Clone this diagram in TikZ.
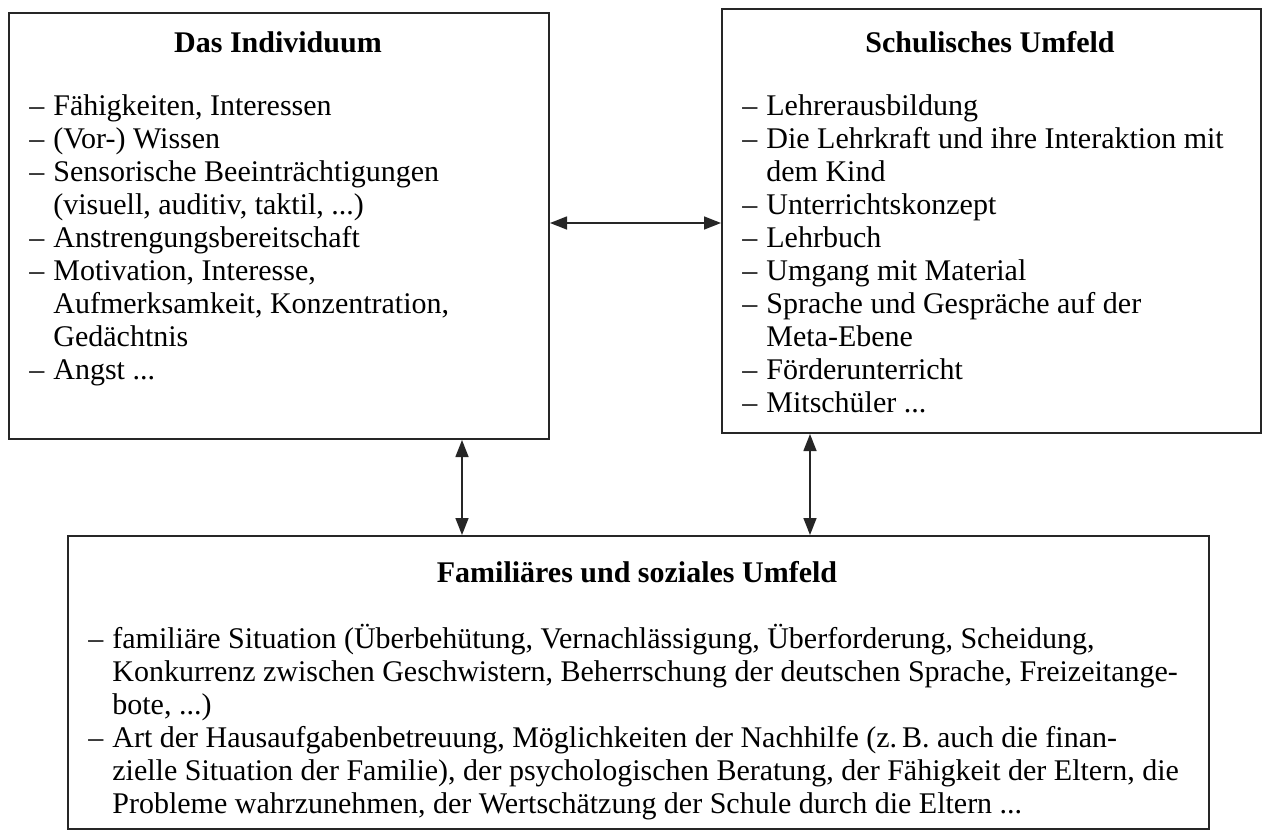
\documentclass[tikz,border=0pt]{standalone}
\usepackage{fontspec}
\setmainfont{Liberation Serif}
\usetikzlibrary{arrows.meta,positioning}

\newcommand{\strich}{\makebox[12pt][l]{--}}
\newcommand{\einzug}{\hspace*{12pt}}

\tikzset{
  kasten/.style={draw=black!85, line width=1pt, inner sep=0pt, anchor=north west},
  titel/.style={font=\fontsize{15pt}{16.5pt}\selectfont\bfseries, anchor=base},
  liste/.style={font=\fontsize{15pt}{16.5pt}\selectfont, align=left, inner sep=0pt, anchor=north west},
  pfeil/.style={{Triangle[length=8.5pt,width=6.5pt]}-{Triangle[length=8.5pt,width=6.5pt]}, draw=black!85, line width=0.75pt}
}

\begin{document}
\begin{tikzpicture}[x=0.5pt, y=-0.5pt]
  \useasboundingbox (0,0) rectangle (1264,831);

  % die drei Kaesten
  \node[kasten, minimum width=270pt, minimum height=213pt] (indiv) at (8,12) {};
  \node[kasten, minimum width=269.5pt, minimum height=212pt] (schule) at (721,8) {};
  \node[kasten, minimum width=570.5pt, minimum height=146.5pt] (familie) at (67,535) {};

  % Das Individuum
  \node[titel] (indivtitel) at (278,52) {Das Individuum};
  \node[liste] (indivliste) at (29,94) {%
    \strich Fähigkeiten, Interessen\\
    \strich (Vor-) Wissen\\
    \strich Sensorische Beeinträchtigungen\\
    \einzug (visuell, auditiv, taktil, ...)\\
    \strich Anstrengungsbereitschaft\\
    \strich Motivation, Interesse,\\
    \einzug Aufmerksamkeit, Konzentration,\\
    \einzug Gedächtnis\\
    \strich Angst ...};

  % Schulisches Umfeld
  \node[titel] (schultitel) at (990,52) {Schulisches Umfeld};
  \node[liste] (schulliste) at (742,94) {%
    \strich Lehrerausbildung\\
    \strich Die Lehrkraft und ihre Interaktion mit\\
    \einzug dem Kind\\
    \strich Unterrichtskonzept\\
    \strich Lehrbuch\\
    \strich Umgang mit Material\\
    \strich Sprache und Gespräche auf der\\
    \einzug Meta-Ebene\\
    \strich Förderunterricht\\
    \strich Mitschüler ...};

  % Familiaeres und soziales Umfeld
  \node[titel] (familietitel) at (637,582) {Familiäres und soziales Umfeld};
  \node[liste] (familieliste) at (88,624) {%
    \strich familiäre Situation (Überbehütung, Vernachlässigung, Überforderung, Scheidung,\\
    \einzug Konkurrenz zwischen Geschwistern, Beherrschung der deutschen Sprache, Freizeitange-\\
    \einzug bote, ...)\\
    \strich Art der Hausaufgabenbetreuung, Möglichkeiten der Nachhilfe (z.\,B. auch die finan-\\
    \einzug zielle Situation der Familie), der psychologischen Beratung, der Fähigkeit der Eltern, die\\
    \einzug Probleme wahrzunehmen, der Wertschätzung der Schule durch die Eltern ...};

  % Pfeile
  \coordinate (mitte) at (0,223);
  \coordinate (links) at (462,0);
  \coordinate (rechts) at (810,0);
  \draw[pfeil] (indiv.east |- mitte) -- (schule.west |- mitte);
  \draw[pfeil] (links |- indiv.south) -- (links |- familie.north);
  \draw[pfeil] (rechts |- schule.south) -- (rechts |- familie.north);
\end{tikzpicture}
\end{document}
